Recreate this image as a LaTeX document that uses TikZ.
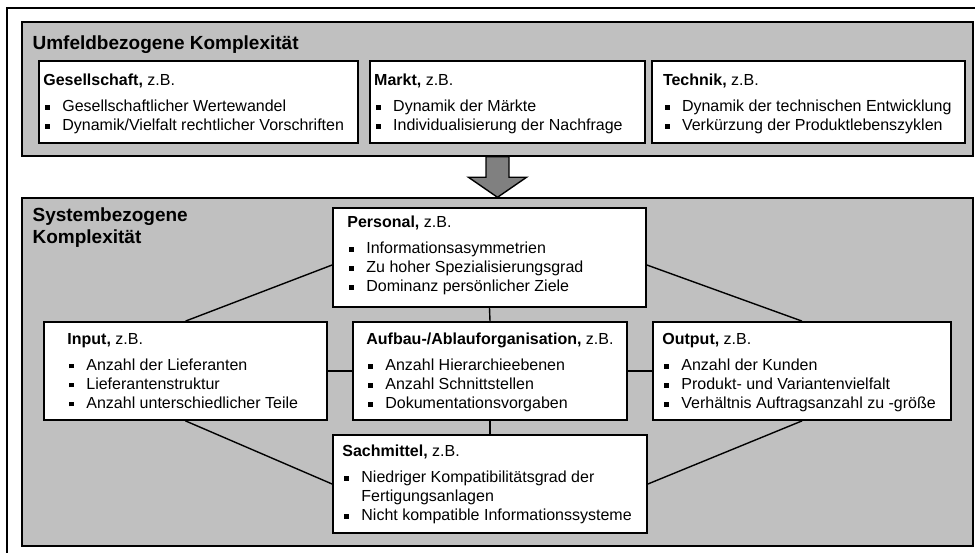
\documentclass[tikz,border=0pt]{standalone}
\usepackage{fontspec}
\setmainfont{Liberation Sans}
\usepackage{xcolor}
\usetikzlibrary{positioning}

\definecolor{panelgray}{RGB}{192,192,192}
\definecolor{arrowgray}{RGB}{128,128,128}

\newlength{\bulw}\setlength{\bulw}{19pt}
\newcommand{\bul}{\makebox[\bulw][l]{\hspace{2pt}\rule[2pt]{4.5pt}{4.5pt}}}
\newcommand{\ind}{\hspace*{\bulw}}
\newcommand{\zb}[1]{\textbf{#1,} z.B.\\[7pt]}

\begin{document}
\begin{tikzpicture}[x=1pt,y=-1pt,semithick]
	\tikzstyle{panel}=[draw, line width=1.4pt, fill=panelgray, inner sep=0pt]
	\tikzstyle{box}=[draw, line width=1.8pt, fill=white, inner sep=0pt]
	\tikzstyle{txt}=[align=left, inner sep=0pt, font=\fontsize{16}{19}\selectfont]
	\tikzstyle{ttl}=[align=left, inner sep=0pt, font=\fontsize{19}{22}\selectfont\bfseries]
	\tikzstyle{link}=[line width=1.4pt]
	\useasboundingbox (0,0) rectangle (975,553);
	% outer frame
	\draw[line width=1.4pt] (7,553) |- (975,8);
	% panels
	\node[panel, minimum width=951pt, minimum height=134pt] (umf) at (497.5,89) {};
	\node[panel, minimum width=951pt, minimum height=348pt] (sys) at (497.5,372) {};
	\node[ttl, below right=14pt and 11pt of umf.north west] (umft) {Umfeldbezogene Komplexit\"at};
	\node[ttl, below right=10pt and 11pt of sys.north west] (syst) {Systembezogene\\Komplexit\"at};
	% arrow
	\filldraw[line width=1.4pt, fill=arrowgray] ([xshift=-11.5pt]umf.south)
		|- ([xshift=-29pt,yshift=20pt]sys.north) -- (sys.north)
		-- ([xshift=29pt,yshift=20pt]sys.north) -| ([xshift=11.5pt]umf.south) -- cycle;
	% environment
	\node[box, minimum width=319pt, minimum height=82pt] (ges) at (198.5,102) {};
	\node[box, minimum width=275pt, minimum height=82pt, right=10pt of ges] (markt) {};
	\node[box, minimum width=313pt, minimum height=82pt, right=5pt of markt] (tech) {};
	\node[txt, below right=14pt and 5pt of ges.north west] (gest)
		{\zb{Gesellschaft}\bul Gesellschaftlicher Wertewandel\\\bul Dynamik/Vielfalt rechtlicher Vorschriften};
	\node[txt, below right=14pt and 5pt of markt.north west] (marktt)
		{\zb{Markt}\bul Dynamik der M\"arkte\\\bul Individualisierung der Nachfrage};
	\node[txt, below right=14pt and 12pt of tech.north west] (techt)
		{\zb{Technik}\bul Dynamik der technischen Entwicklung\\\bul Verk\"urzung der Produktlebenszyklen};
	% system
	\node[box, minimum width=313pt, minimum height=99pt] (pers) at (489.5,257.5) {};
	\node[box, minimum width=283pt, minimum height=98pt] (in) at (185.5,371) {};
	\node[box, minimum width=274pt, minimum height=98pt] (auf) at (490,371) {};
	\node[box, minimum width=298pt, minimum height=98pt] (out) at (802,371) {};
	\node[box, minimum width=314pt, minimum height=98pt] (sach) at (490,484) {};
	\node[txt, below right=9pt and 15pt of pers.north west] (perst)
		{\zb{Personal}\bul Informationsasymmetrien\\\bul Zu hoher Spezialisierungsgrad\\\bul Dominanz pers\"onlicher Ziele};
	\node[txt, below right=12pt and 24pt of in.north west] (int)
		{\zb{Input}\bul Anzahl der Lieferanten\\\bul Lieferantenstruktur\\\bul Anzahl unterschiedlicher Teile};
	\node[txt, below right=12pt and 14pt of auf.north west] (auft)
		{\zb{Aufbau-/Ablauforganisation}\bul Anzahl Hierarchieebenen\\\bul Anzahl Schnittstellen\\\bul Dokumentationsvorgaben};
	\node[txt, below right=12pt and 10pt of out.north west] (outt)
		{\zb{Output}\bul Anzahl der Kunden\\\bul Produkt- und Variantenvielfalt\\\bul Verh\"altnis Auftragsanzahl zu -gr\"o\ss e};
	\node[txt, below right=11pt and 10pt of sach.north west] (sacht)
		{\zb{Sachmittel}\bul Niedriger Kompatibilit\"atsgrad der\\\ind Fertigungsanlagen\\\bul Nicht kompatible Informationssysteme};
	% links
	\path[link]
		([yshift=-7.5pt]pers.west) edge (in.north)
		([yshift=-7.5pt]pers.east) edge (out.north)
		(in.south) edge (sach.west)
		(out.south) edge (sach.east)
		(pers.south) edge (auf.north)
		(auf.south) edge (sach.north)
		(in.east) edge (auf.west)
		(auf.east) edge (out.west);
\end{tikzpicture}
\end{document}
